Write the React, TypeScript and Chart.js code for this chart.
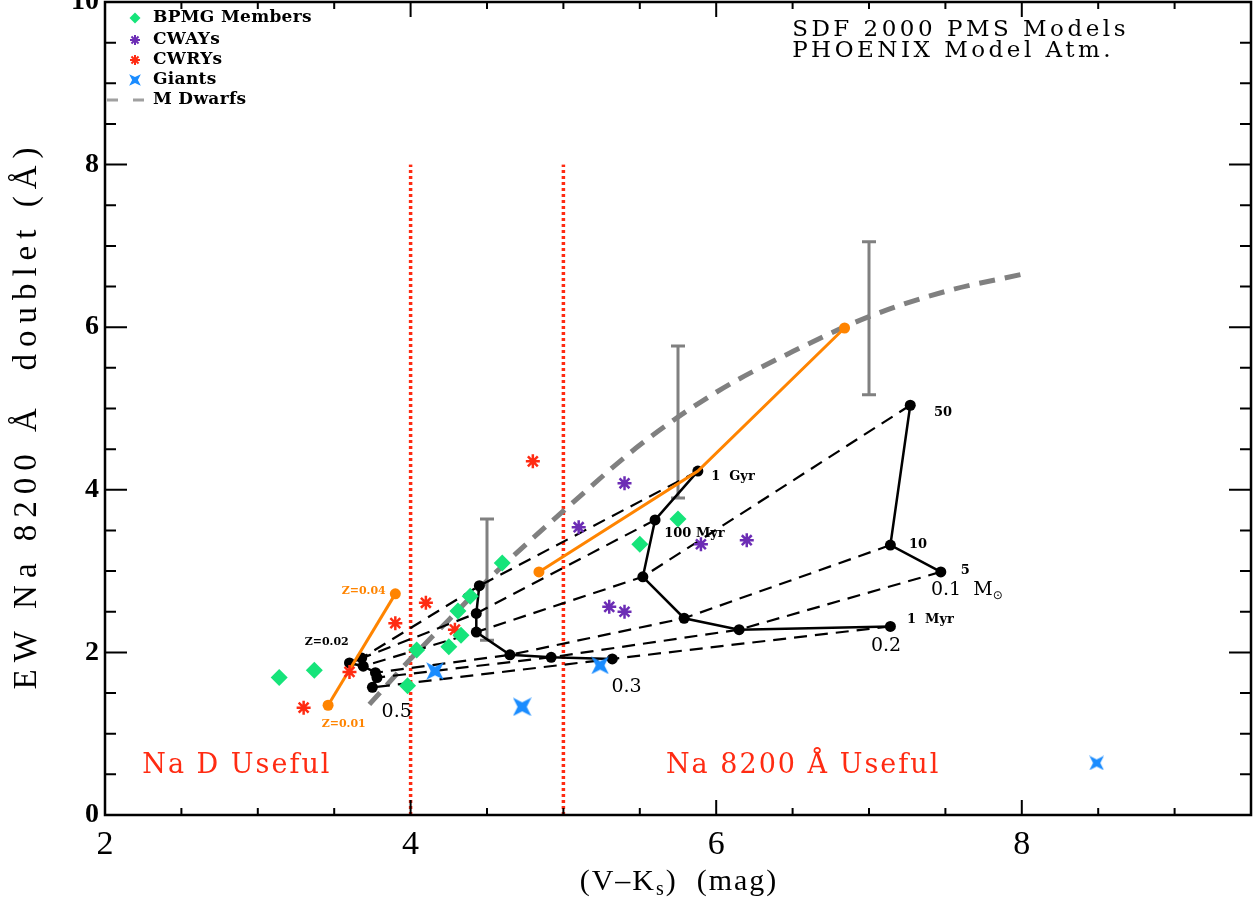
import React, { useEffect, useRef } from 'react';
import { Chart, registerables } from 'chart.js';

Chart.register(...registerables);

// ---------- tick labels ----------
const xTickValues = [2, 4, 6, 8];
const yTickValues = [0, 2, 4, 6, 8, 10];
const minorStep = 0.5;

// ---------- observed samples ----------
const bpmgX = [3.14, 3.37, 3.98, 4.04, 4.25, 4.33, 4.31, 4.39, 4.6, 5.5, 5.75];
const bpmgY = [1.69, 1.78, 1.59, 2.03, 2.07, 2.21, 2.51, 2.69, 3.1, 3.33, 3.64];

const cwayX = [5.1, 5.4, 5.9, 6.2, 5.3, 5.4];
const cwayY = [3.54, 4.08, 3.33, 3.38, 2.56, 2.5];

const cwryX = [4.8, 4.1, 3.9, 3.6, 3.3, 4.29];
const cwryY = [4.35, 2.61, 2.36, 1.76, 1.32, 2.28];

const giantX = [4.16, 4.73, 5.24, 8.49];
const giantY = [1.77, 1.33, 1.84, 0.64];
const giantSize = [18, 19, 18, 15];

// M dwarf relation
const mDwarfX = [3.73, 4.0, 4.25, 4.5, 4.75, 5.0, 5.5, 6.0, 6.5, 7.0, 7.5, 8.0];
const mDwarfY = [1.36, 1.92, 2.4, 2.88, 3.32, 3.74, 4.55, 5.2, 5.7, 6.13, 6.44, 6.65];

// M dwarf scatter (error bars)
const errX = [4.5, 5.75, 7.0];
const errLo = [2.15, 3.9, 5.17];
const errHi = [3.64, 5.77, 7.05];

// ---------- SDF 2000 model tracks (ages: 1 Myr, 5, 10, 50, 100 Myr, 1 Gyr) ----------
const trackAges = ['1 Myr', '5', '10', '50', '100 Myr', '1 Gyr'];
const track01X = [null, 7.47, 7.14, 7.27, null, null];
const track01Y = [null, 2.99, 3.32, 5.04, null, null];
const track02X = [7.14, 6.15, 5.79, 5.52, 5.6, 5.88];
const track02Y = [2.32, 2.28, 2.42, 2.93, 3.63, 4.23];
const track03X = [5.32, 4.92, 4.65, 4.43, 4.43, 4.45];
const track03Y = [1.92, 1.94, 1.97, 2.25, 2.48, 2.82];
const track05X = [3.75, 3.78, 3.77, 3.69, 3.6, 3.68];
const track05Y = [1.57, 1.69, 1.75, 1.83, 1.87, 1.93];

// metallicity variations
const zLowMassX = [3.46, 3.9];
const zLowMassY = [1.35, 2.72];
const zHighAgeX = [4.84, 5.88, 6.84];
const zHighAgeY = [2.99, 4.23, 5.99];

// useful-range limits
const naDLimitX = 4;
const na8200LimitX = 5;
const limitTop = 8;

// ---------- styles ----------
const RED = '#ff2b12';
const GREEN = '#16e47a';
const PURPLE = '#6c2db5';
const BLUE = '#1a8cff';
const ORANGE = '#ff8400';
const GRAY = '#808080';
const SERIF = '"DejaVu Serif", serif';
const LSERIF = '"Liberation Serif", serif';

const notes = [
  { text: '1  Gyr', x: 5.967, y: 4.157, font: `bold 13px ${SERIF}`, color: '#000', align: 'left' },
  { text: '100 Myr', x: 5.66, y: 3.456, font: `bold 13px ${SERIF}`, color: '#000', align: 'left' },
  { text: '50', x: 7.425, y: 4.945, font: `bold 13px ${SERIF}`, color: '#000', align: 'left' },
  { text: '10', x: 7.261, y: 3.321, font: `bold 13px ${SERIF}`, color: '#000', align: 'left' },
  { text: '5', x: 7.601, y: 3.0, font: `bold 13px ${SERIF}`, color: '#000', align: 'left' },
  { text: '1  Myr', x: 7.248, y: 2.4, font: `bold 13px ${SERIF}`, color: '#000', align: 'left' },
  { text: '0.2', x: 7.013, y: 2.08, font: `19px ${SERIF}`, color: '#000', align: 'left' },
  { text: '0.3', x: 5.314, y: 1.574, font: `19px ${SERIF}`, color: '#000', align: 'left' },
  { text: '0.5', x: 3.81, y: 1.267, font: `19px ${SERIF}`, color: '#000', align: 'left' },
  { text: 'Z=0.04', x: 3.837, y: 2.755, font: `bold 11px ${SERIF}`, color: ORANGE, align: 'right' },
  { text: 'Z=0.02', x: 3.307, y: 2.128, font: `bold 11px ${SERIF}`, color: '#000', align: 'left' },
  { text: 'Z=0.01', x: 3.418, y: 1.119, font: `bold 11px ${SERIF}`, color: ORANGE, align: 'left' },
  { text: 'Na D Useful', x: 2.863, y: 0.6, font: `27px ${SERIF}`, color: RED, align: 'center', spacing: 2 },
  { text: 'Na 8200 Å Useful', x: 6.569, y: 0.6, font: `27px ${SERIF}`, color: RED, align: 'center', spacing: 2 },
  { text: 'SDF 2000 PMS Models', x: 6.497, y: 9.655, font: `23px ${SERIF}`, color: '#000', align: 'left', spacing: 3.5 },
  { text: 'PHOENIX Model Atm.', x: 6.497, y: 9.395, font: `23px ${SERIF}`, color: '#000', align: 'left', spacing: 3.5 },
];

const legendLabels = ['BPMG Members', 'CWAYs', 'CWRYs', 'Giants', 'M Dwarfs'];

const pts = (xs: (number | null)[], ys: (number | null)[]) =>
  xs.map((x, i) => ({ x, y: ys[i] })).filter((p) => p.x !== null && p.y !== null) as { x: number; y: number }[];

function giantMarker(size: number, color: string) {
  const c = document.createElement('canvas');
  c.width = size;
  c.height = size;
  const g = c.getContext('2d')!;
  const h = size / 2;
  g.translate(h, h);
  g.fillStyle = color;
  g.beginPath();
  const R = h * 1.38;
  const k = h * 0.48;
  for (let i = 0; i < 4; i++) {
    const tip = Math.PI / 4 + (i * Math.PI) / 2;
    const inner = tip + Math.PI / 4;
    if (i === 0) g.moveTo(R * Math.cos(tip), R * Math.sin(tip));
    else g.lineTo(R * Math.cos(tip), R * Math.sin(tip));
    g.lineTo(k * Math.cos(inner), k * Math.sin(inner));
  }
  g.closePath();
  g.fill();
  return c;
}

function setSpacing(ctx: CanvasRenderingContext2D, px: number) {
  if ('letterSpacing' in ctx) (ctx as any).letterSpacing = `${px}px`;
}

function drawText(ctx: CanvasRenderingContext2D, text: string, x: number, y: number, font: string, color: string, align: CanvasTextAlign = 'left', spacing = 0) {
  ctx.save();
  ctx.font = font;
  ctx.fillStyle = color;
  ctx.textAlign = align;
  ctx.textBaseline = 'middle';
  setSpacing(ctx, spacing);
  ctx.fillText(text, x, y);
  ctx.restore();
}

const overlay = {
  id: 'overlay',
  beforeDatasetsDraw(chart: any) {
    const { ctx, scales } = chart;
    const { x, y } = scales;
    ctx.save();
    ctx.strokeStyle = GRAY;
    ctx.lineWidth = 3;
    errX.forEach((v, i) => {
      const px = x.getPixelForValue(v);
      const lo = y.getPixelForValue(errLo[i]);
      const hi = y.getPixelForValue(errHi[i]);
      ctx.beginPath();
      ctx.moveTo(px, lo);
      ctx.lineTo(px, hi);
      ctx.moveTo(px - 7, lo);
      ctx.lineTo(px + 7, lo);
      ctx.moveTo(px - 7, hi);
      ctx.lineTo(px + 7, hi);
      ctx.stroke();
    });
    ctx.restore();
  },
  afterDatasetsDraw(chart: any) {
    const { ctx, scales } = chart;
    const { x, y } = scales;
    notes.forEach((n) => {
      drawText(ctx, n.text, x.getPixelForValue(n.x), y.getPixelForValue(n.y), n.font, n.color, n.align as CanvasTextAlign, n.spacing || 0);
    });
    // 0.1 Msun label
    const lx = x.getPixelForValue(7.405);
    const ly = y.getPixelForValue(2.77);
    ctx.save();
    ctx.font = `19px ${SERIF}`;
    ctx.fillStyle = '#000';
    ctx.textBaseline = 'middle';
    ctx.textAlign = 'left';
    const main = '0.1  M';
    ctx.fillText(main, lx, ly);
    const w = ctx.measureText(main).width;
    ctx.font = `12px "DejaVu Sans", sans-serif`;
    ctx.fillText('⊙', lx + w, ly + 6);
    ctx.restore();
  },
  afterDraw(chart: any) {
    const { ctx, chartArea: ca, scales } = chart;
    const { x, y } = scales;
    ctx.save();
    // ticks
    ctx.strokeStyle = '#000';
    ctx.lineWidth = 2;
    ctx.beginPath();
    for (let v = x.min; v <= x.max + 1e-9; v += minorStep) {
      const px = x.getPixelForValue(v);
      const major = xTickValues.some((t) => Math.abs(t - v) < 1e-9);
      const len = major ? 15 : 7;
      ctx.moveTo(px, ca.bottom);
      ctx.lineTo(px, ca.bottom - len);
      ctx.moveTo(px, ca.top);
      ctx.lineTo(px, ca.top + len);
    }
    for (let v = y.min; v <= y.max + 1e-9; v += minorStep) {
      const py = y.getPixelForValue(v);
      const major = yTickValues.some((t) => Math.abs(t - v) < 1e-9);
      const len = major ? 22 : 11;
      ctx.moveTo(ca.left, py);
      ctx.lineTo(ca.left + len, py);
      ctx.moveTo(ca.right, py);
      ctx.lineTo(ca.right - len, py);
    }
    ctx.stroke();
    // frame
    ctx.lineWidth = 2.5;
    ctx.strokeRect(ca.left, ca.top, ca.right - ca.left, ca.bottom - ca.top);
    ctx.restore();

    // legend
    const lgX = 135;
    const lgText = 153;
    const lgY = [18, 40, 60, 80, 100];
    ctx.save();
    // diamond
    ctx.fillStyle = GREEN;
    ctx.beginPath();
    ctx.moveTo(lgX, lgY[0] - 5.5);
    ctx.lineTo(lgX + 5.5, lgY[0]);
    ctx.lineTo(lgX, lgY[0] + 5.5);
    ctx.lineTo(lgX - 5.5, lgY[0]);
    ctx.closePath();
    ctx.fill();
    // asterisks
    [[PURPLE, lgY[1]], [RED, lgY[2]]].forEach(([col, yy]) => {
      ctx.strokeStyle = col as string;
      ctx.lineWidth = 2;
      ctx.beginPath();
      for (let i = 0; i < 4; i++) {
        const a = (i * Math.PI) / 4;
        ctx.moveTo(lgX - 5 * Math.cos(a), (yy as number) - 5 * Math.sin(a));
        ctx.lineTo(lgX + 5 * Math.cos(a), (yy as number) + 5 * Math.sin(a));
      }
      ctx.stroke();
    });
    const gm = giantMarker(12, BLUE);
    ctx.drawImage(gm, lgX - 6, lgY[3] - 6);
    ctx.strokeStyle = '#a0a0a0';
    ctx.lineWidth = 3;
    ctx.setLineDash([11, 15]);
    ctx.beginPath();
    ctx.moveTo(107, lgY[4]);
    ctx.lineTo(146, lgY[4]);
    ctx.stroke();
    ctx.setLineDash([]);
    ctx.restore();
    legendLabels.forEach((t, i) => drawText(ctx, t, lgText, lgY[i], `bold 17px ${SERIF}`, '#000', 'left', 0.3));

    // axis titles
    ctx.save();
    ctx.translate(27, 415);
    ctx.rotate(-Math.PI / 2);
    drawText(ctx, 'EW Na 8200 Å  doublet (Å)', 0, 0, `33px ${LSERIF}`, '#000', 'center', 7);
    ctx.restore();

    ctx.save();
    const big = `30px ${LSERIF}`;
    const small = `20px ${LSERIF}`;
    ctx.textBaseline = 'middle';
    setSpacing(ctx, 2);
    ctx.font = big;
    const p1 = '(V–K';
    const p3 = ')  (mag)';
    const w1 = ctx.measureText(p1).width;
    const w3 = ctx.measureText(p3).width;
    ctx.font = small;
    const w2 = ctx.measureText('s').width;
    const total = w1 + w2 + w3;
    let cx = 679 - total / 2;
    const cy = 882;
    ctx.fillStyle = '#000';
    ctx.font = big;
    ctx.fillText(p1, cx, cy);
    cx += w1;
    ctx.font = small;
    ctx.fillText('s', cx, cy + 8);
    cx += w2;
    ctx.font = big;
    ctx.fillText(p3, cx, cy);
    ctx.restore();
  },
};

export default function App() {
  const ref = useRef<HTMLCanvasElement>(null);
  useEffect(() => {
    document.body.style.margin = '0';
    const canvas = ref.current!;

    const tracksX = [track01X, track02X, track03X, track05X];
    const tracksY = [track01Y, track02Y, track03Y, track05Y];
    const isochrones = trackAges.map((age, a) => {
      const d: { x: number; y: number }[] = [];
      tracksX.forEach((tx, t) => {
        const vx = tx[a];
        const vy = tracksY[t][a];
        if (vx !== null && vy !== null) d.push({ x: vx as number, y: vy as number });
      });
      return {
        label: `Isochrone ${age}`,
        data: d,
        showLine: true,
        borderColor: '#000',
        borderWidth: 2.2,
        borderDash: [13, 8],
        pointRadius: 0,
      };
    });

    const trackSets = tracksX.map((tx, t) => ({
      label: `Track ${t}`,
      data: pts(tx, tracksY[t]),
      showLine: true,
      borderColor: '#000',
      borderWidth: 2.5,
      pointRadius: 5.5,
      pointBackgroundColor: '#000',
      pointBorderColor: '#000',
      pointBorderWidth: 0,
    }));

    const datasets: any[] = [
      {
        label: 'Na D limit',
        data: [{ x: naDLimitX, y: 0 }, { x: naDLimitX, y: limitTop }],
        showLine: true,
        borderColor: RED,
        borderWidth: 3.5,
        borderDash: [3, 3],
        pointRadius: 0,
      },
      {
        label: 'Na 8200 limit',
        data: [{ x: na8200LimitX, y: 0 }, { x: na8200LimitX, y: limitTop }],
        showLine: true,
        borderColor: RED,
        borderWidth: 3.5,
        borderDash: [3, 3],
        pointRadius: 0,
      },
      {
        label: 'M Dwarfs',
        data: pts(mDwarfX, mDwarfY),
        showLine: true,
        borderColor: GRAY,
        borderWidth: 5,
        borderDash: [16, 10],
        pointRadius: 0,
        tension: 0.4,
        cubicInterpolationMode: 'monotone',
      },
      ...isochrones,
      ...trackSets,
      {
        label: 'Z low mass',
        data: pts(zLowMassX, zLowMassY),
        showLine: true,
        borderColor: ORANGE,
        borderWidth: 3,
        pointRadius: 5.5,
        pointBackgroundColor: ORANGE,
        pointBorderColor: ORANGE,
        pointBorderWidth: 0,
      },
      {
        label: 'Z high',
        data: pts(zHighAgeX, zHighAgeY),
        showLine: true,
        borderColor: ORANGE,
        borderWidth: 3,
        pointRadius: [5.5, 0, 5.5],
        pointBackgroundColor: ORANGE,
        pointBorderColor: ORANGE,
        pointBorderWidth: 0,
      },
      {
        label: 'CWRYs',
        data: pts(cwryX, cwryY),
        pointStyle: 'star',
        pointRadius: 7,
        pointBorderColor: RED,
        pointBorderWidth: 2.5,
        pointBackgroundColor: RED,
      },
      {
        label: 'CWAYs',
        data: pts(cwayX, cwayY),
        pointStyle: 'star',
        pointRadius: 7,
        pointBorderColor: PURPLE,
        pointBorderWidth: 2.5,
        pointBackgroundColor: PURPLE,
      },
      {
        label: 'BPMG Members',
        data: pts(bpmgX, bpmgY),
        pointStyle: 'rectRot',
        pointRadius: 8.5,
        pointBackgroundColor: GREEN,
        pointBorderColor: GREEN,
        pointBorderWidth: 0,
      },
      {
        label: 'Giants',
        data: pts(giantX, giantY),
        pointStyle: giantSize.map((s) => giantMarker(s, BLUE)),
        pointRadius: 9,
      },
    ];
    datasets.forEach((d, i) => {
      d.order = datasets.length - i;
    });

    const chart = new Chart(canvas, {
      type: 'scatter',
      data: { datasets },
      options: {
        animation: false,
        responsive: false,
        events: [],
        layout: { autoPadding: false, padding: { top: 2, right: 9, left: 0, bottom: 0 } },
        plugins: { legend: { display: false }, tooltip: { enabled: false } },
        scales: {
          x: {
            type: 'linear',
            min: 2,
            max: 9.5,
            grid: { display: false, drawTicks: false },
            border: { display: false },
            afterBuildTicks: (s: any) => {
              s.ticks = xTickValues.map((v) => ({ value: v }));
            },
            afterFit: (s: any) => {
              s.height = 88;
              s.paddingLeft = 0;
              s.paddingRight = 0;
            },
            ticks: {
              font: { family: LSERIF, size: 34 },
              color: '#000',
              padding: 10,
              maxRotation: 0,
              autoSkip: false,
            },
          },
          y: {
            type: 'linear',
            min: 0,
            max: 10,
            grid: { display: false, drawTicks: false },
            border: { display: false },
            afterBuildTicks: (s: any) => {
              s.ticks = yTickValues.map((v) => ({ value: v }));
            },
            afterFit: (s: any) => {
              s.width = 105;
              s.paddingTop = 0;
              s.paddingBottom = 0;
            },
            ticks: {
              font: { family: LSERIF, size: 28, weight: 'bold' },
              color: '#000',
              padding: 6,
              autoSkip: false,
            },
          },
        },
      },
      plugins: [overlay],
    } as any);
    return () => chart.destroy();
  }, []);
  return <canvas ref={ref} width={1260} height={903} style={{ display: 'block' }} />;
}
